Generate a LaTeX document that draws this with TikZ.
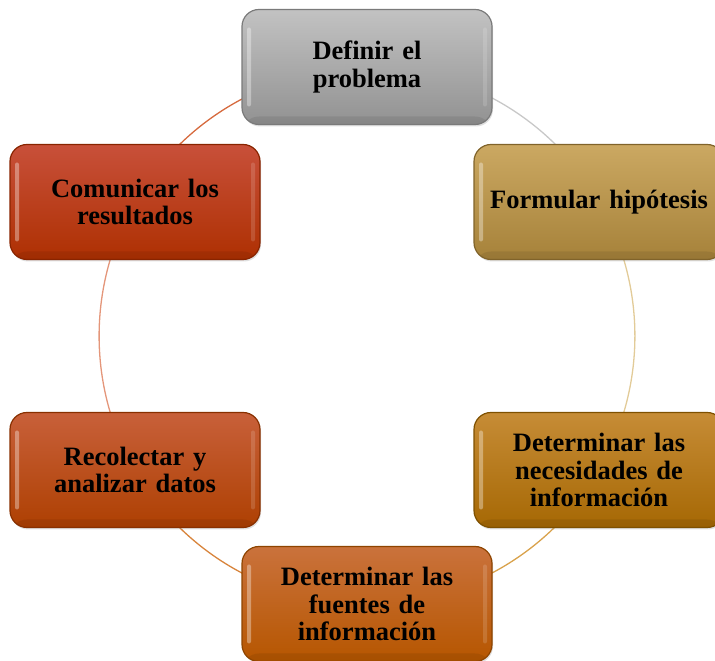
\documentclass[tikz,border=0pt]{standalone}
\usepackage{fontspec}
\setmainfont{Liberation Serif}
\usetikzlibrary{shadows,backgrounds}
\definecolor{grayT}{HTML}{C2C2C2}\definecolor{grayB}{HTML}{929292}\definecolor{grayD}{HTML}{7A7A7A}
\definecolor{tanT}{HTML}{CBA862}\definecolor{tanB}{HTML}{A6823A}\definecolor{tanD}{HTML}{80632A}
\definecolor{golT}{HTML}{C68C36}\definecolor{golB}{HTML}{A66804}\definecolor{golD}{HTML}{7E5000}
\definecolor{orgT}{HTML}{CA723C}\definecolor{orgB}{HTML}{B65600}\definecolor{orgD}{HTML}{8E4400}
\definecolor{recT}{HTML}{C8603A}\definecolor{recB}{HTML}{AE4002}\definecolor{recD}{HTML}{883000}
\definecolor{comT}{HTML}{C8503A}\definecolor{comB}{HTML}{AE3002}\definecolor{comD}{HTML}{882400}
\definecolor{arcGray}{HTML}{C8C8C8}
\definecolor{arcTan}{HTML}{E2CB98}
\definecolor{arcGold}{HTML}{D9A24C}
\definecolor{arcOrg}{HTML}{D8843C}
\definecolor{arcSal}{HTML}{E4967A}
\definecolor{arcRed}{HTML}{D66A3E}
\tikzset{
  stepbox/.style n args={3}{rounded corners=17pt, minimum width=250pt, minimum height=115pt,
    text width=240pt, align=center, inner sep=0pt,
    font=\fontsize{26.5}{27.5}\selectfont\bfseries,
    top color=#1, bottom color=#2, draw=#3, line width=1.2pt,
    drop shadow={opacity=0.25, shadow xshift=1pt, shadow yshift=-2pt},
    path picture={
      \fill[white, opacity=0.35, rounded corners=2pt]
        ([xshift=5pt,yshift=-18pt]path picture bounding box.north west) rectangle
        ([xshift=9pt,yshift=18pt]path picture bounding box.south west);
      \fill[white, opacity=0.15, rounded corners=2pt]
        ([xshift=-9pt,yshift=-18pt]path picture bounding box.north east) rectangle
        ([xshift=-5pt,yshift=18pt]path picture bounding box.south east);
      \fill[black, opacity=0.08]
        ([yshift=8pt]path picture bounding box.south west) rectangle
        (path picture bounding box.south east);
    }},
  ring/.style={line width=1.3pt}
}
\begin{document}
\begin{tikzpicture}[x=1pt,y=1pt]
\useasboundingbox (0,0) rectangle (715,661);
\clip (0,0) rectangle (715,661);
\coordinate (c) at (367,325.5);
\node[stepbox={grayT}{grayB}{grayD}] (def) at (367,594) {Definir el\\problema};
\node[stepbox={tanT}{tanB}{tanD}] (hip) at (599,459) {Formular hipótesis};
\node[stepbox={golT}{golB}{golD}] (nec) at (599,191) {Determinar las\\necesidades de\\información};
\node[stepbox={orgT}{orgB}{orgD}] (fue) at (367,57) {Determinar las\\fuentes de\\información};
\node[stepbox={recT}{recB}{recD}] (rec) at (135,191) {Recolectar y\\analizar datos};
\node[stepbox={comT}{comB}{comD}] (com) at (135,459) {Comunicar los\\resultados};
\begin{scope}[on background layer]
\draw[ring, arcGray] (def.center) arc[start angle=90, end angle=30, radius=268];
\draw[ring, arcTan] (hip.center) arc[start angle=30, end angle=-30, radius=268];
\draw[ring, arcGold] (nec.center) arc[start angle=-30, end angle=-90, radius=268];
\draw[ring, arcOrg] (fue.center) arc[start angle=-90, end angle=-150, radius=268];
\draw[ring, arcSal] (rec.center) arc[start angle=210, end angle=150, radius=268];
\draw[ring, arcRed] (com.center) arc[start angle=150, end angle=90, radius=268];
\end{scope}
\end{tikzpicture}
\end{document}
